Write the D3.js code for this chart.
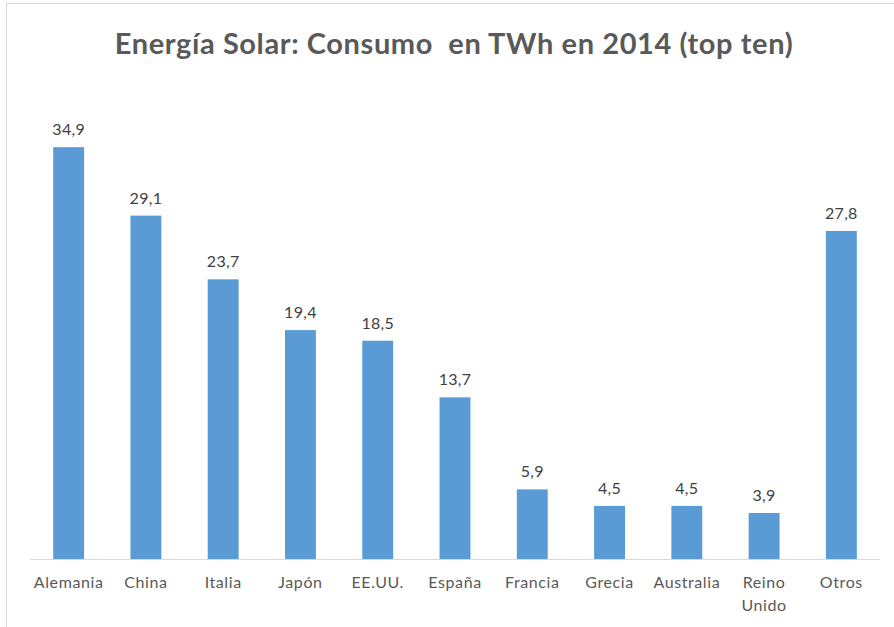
<!DOCTYPE html>
<html>
<head>
<meta charset="utf-8">
<script src="https://cdn.jsdelivr.net/npm/d3@7"></script>
<style>
  body { margin: 0; background: #fff; }
  text { font-family: Lato, "Liberation Sans", sans-serif; }
</style>
</head>
<body>
<div id="chart"></div>
<script>
const width = 894;
const height = 627;

// data
const categories = ["Alemania", "China", "Italia", "Japón", "EE.UU.", "España", "Francia", "Grecia", "Australia", "Reino Unido", "Otros"];
const values = [34.9, 29.1, 23.7, 19.4, 18.5, 13.7, 5.9, 4.5, 4.5, 3.9, 27.8];
const title = "Energía Solar: Consumo  en TWh en 2014 (top ten)";

const data = categories.map((c, i) => ({ cat: c, value: values[i] }));

const svg = d3.select("#chart")
  .append("svg")
  .attr("width", width)
  .attr("height", height);

// chart frame
svg.append("rect")
  .attr("x", 6.5).attr("y", 3.5)
  .attr("width", 900).attr("height", 700)
  .attr("fill", "#fff")
  .attr("stroke", "#d9d9d9");

svg.append("text")
  .attr("x", 454)
  .attr("y", 54)
  .attr("text-anchor", "middle")
  .style("font-size", "29px")
  .style("font-weight", "bold")
  .style("letter-spacing", "0.6px")
  .style("white-space", "pre")
  .attr("fill", "#595959")
  .text(title);

const x = d3.scaleBand()
  .domain(categories)
  .range([30, 880])
  .paddingInner(0.6)
  .paddingOuter(0.3);

const y = d3.scaleLinear()
  .domain([0, 40])
  .range([559, 87]);

svg.selectAll(".bar")
  .data(data)
  .enter()
  .append("rect")
  .attr("class", "bar")
  .attr("x", d => x(d.cat))
  .attr("y", d => y(d.value))
  .attr("width", x.bandwidth())
  .attr("height", d => y(0) - y(d.value))
  .attr("fill", "#5b9bd5");

svg.selectAll(".label")
  .data(data)
  .enter()
  .append("text")
  .attr("class", "label")
  .attr("x", d => x(d.cat) + x.bandwidth() / 2)
  .attr("y", d => y(d.value) - 12)
  .attr("text-anchor", "middle")
  .style("font-size", "16px")
  .style("letter-spacing", "0.3px")
  .attr("fill", "#404040")
  .text(d => d.value.toFixed(1).replace(".", ","));

// x axis
const xAxis = svg.append("g")
  .attr("transform", `translate(0,${y(0)})`)
  .call(d3.axisBottom(x).tickSize(0).tickPadding(0).tickFormat(""));
xAxis.select(".domain")
  .attr("d", "M30,0.5H880")
  .attr("stroke", "#d9d9d9");

const ticks = xAxis.selectAll(".tick");
ticks.append("text")
  .attr("fill", "#595959")
  .attr("text-anchor", "middle")
  .style("font-size", "16px")
  .style("letter-spacing", "0.6px")
  .selectAll("tspan")
  .data(d => d === "Reino Unido" ? ["Reino", "Unido"] : [d])
  .enter()
  .append("tspan")
  .attr("x", 0)
  .attr("y", (d, i) => 29 + i * 23)
  .text(d => d);
</script>
</body>
</html>
